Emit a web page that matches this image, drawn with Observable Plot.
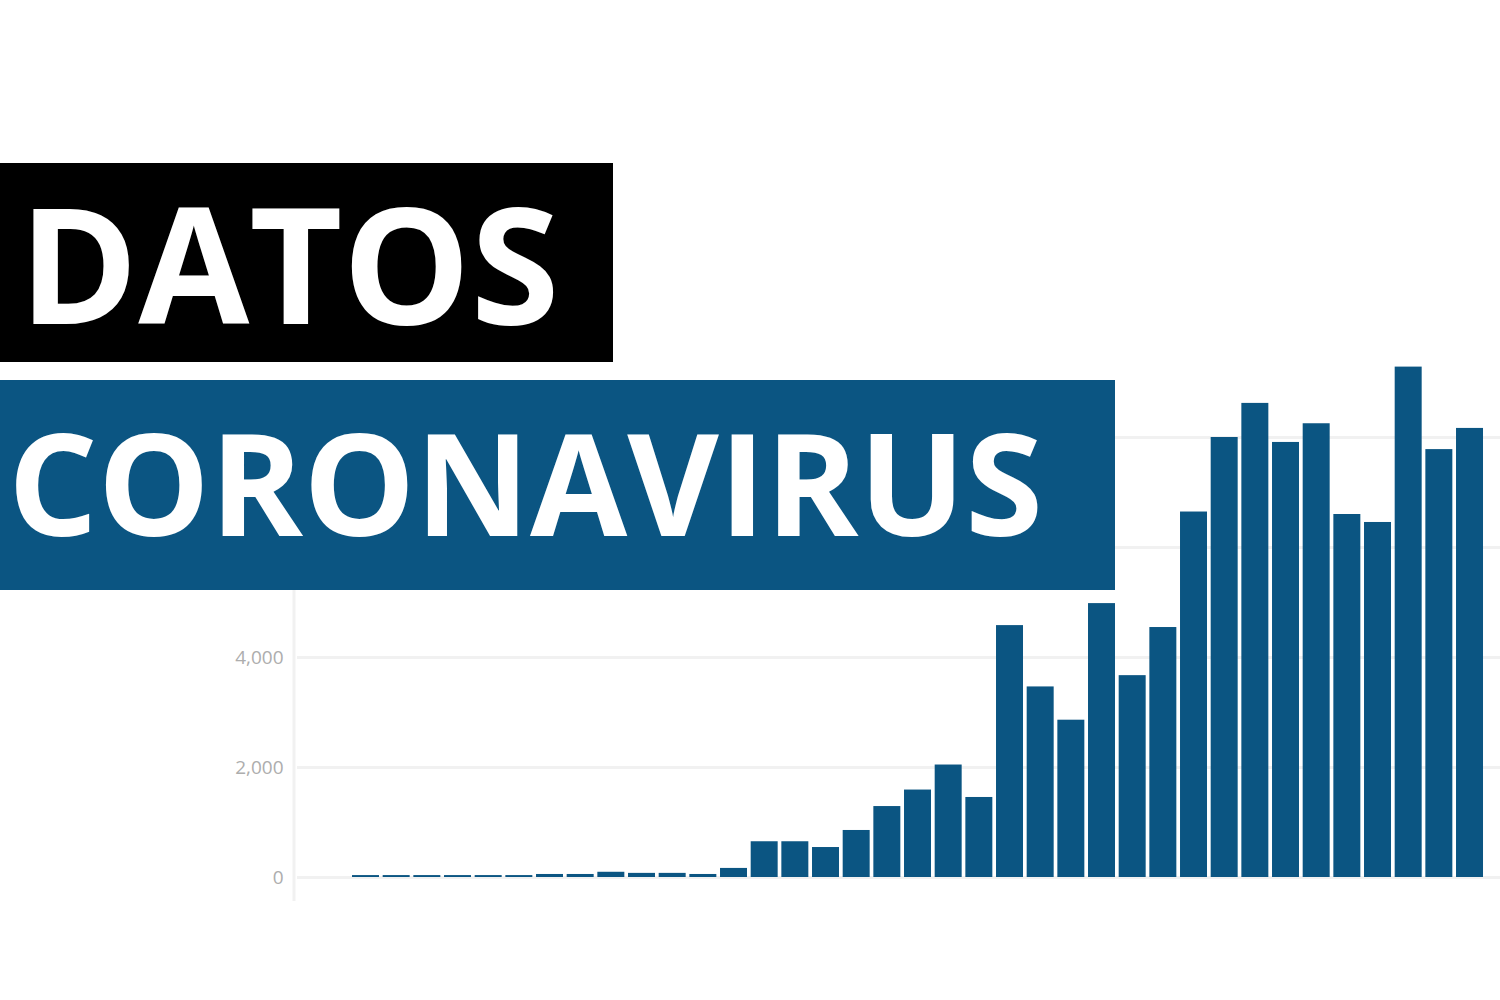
<!DOCTYPE html>
<html>
<head>
<meta charset="utf-8">
<script src="https://cdn.jsdelivr.net/npm/d3@7"></script>
<script src="https://cdn.jsdelivr.net/npm/@observablehq/plot@0.6"></script>
<style>
  html, body { margin: 0; padding: 0; background: #ffffff; }
  #wrap { position: relative; width: 1500px; height: 1000px; overflow: hidden; background: #fff; }
  #wrap > svg.plot { position: absolute; left: 0; top: 0; }
  #header { position: absolute; left: 0; top: 0; width: 1500px; height: 1000px; pointer-events: none; }
</style>
</head>
<body>
<div id="wrap"></div>
<script>
// ---- data ----
const days = d3.range(1, 38).map(String);
const values = [
  35, 35, 35, 35, 35, 35, 55, 55, 95, 75, 75, 55, 165,
  650, 650, 545, 855, 1290, 1590, 2045, 1455,
  4580, 3465, 2860, 4980, 3670, 4545,
  6645, 8000, 8620, 7910, 8250, 6600, 6455, 9280, 7780, 8165
];
const gridTicks = [0, 2000, 4000, 6000, 8000];
const labelTicks = [0, 2000, 4000];
const titleLine1 = "DATOS";
const titleLine2 = "CORONAVIRUS";

const data = days.map((d, i) => ({day: d, value: values[i]}));

const BLUE = "#0b5582";
const GRID = "#f1f1f1";

// faint vertical axis line on the left edge of the frame
function leftLine(index, scales, values, dims) {
  const g = d3.create("svg:g");
  g.append("line")
    .attr("x1", dims.marginLeft - 3).attr("x2", dims.marginLeft - 3)
    .attr("y1", scales.y(6000)).attr("y2", dims.height - dims.marginBottom + 24)
    .attr("stroke", GRID).attr("stroke-width", 3);
  return g.node();
}

const chart = Plot.plot({
  width: 1500,
  height: 1000,
  marginLeft: 297,
  marginRight: 0,
  marginTop: 327,
  marginBottom: 123,
  style: {background: "transparent", fontFamily: "'Open Sans', sans-serif"},
  x: {
    type: "band",
    domain: days,
    paddingInner: 0.12,
    paddingOuter: 1.174,
    align: 0.764,
    round: false,
    axis: null
  },
  y: {domain: [0, 10000], axis: null},
  marks: [
    Plot.ruleY(gridTicks, {stroke: GRID, strokeWidth: 3}),
    leftLine,
    Plot.axisY({
      ticks: labelTicks,
      tickSize: 0,
      tickPadding: 14,
      tickFormat: d3.format(","),
      fontSize: 19,
      color: "#adadad",
      label: null
    }),
    Plot.barY(data, {x: "day", y: "value", fill: BLUE})
  ]
});
chart.classList.add("plot");
document.getElementById("wrap").appendChild(chart);

// ---- header overlay ----
const header = d3.select("#wrap").append("svg")
  .attr("id", "header")
  .attr("width", 1500).attr("height", 1000);

header.append("rect")
  .attr("x", 0).attr("y", 163).attr("width", 613).attr("height", 199)
  .attr("fill", "#000000");
header.append("text")
  .attr("x", 19).attr("y", 324)
  .attr("fill", "#ffffff")
  .attr("font-family", "'Open Sans', sans-serif")
  .attr("font-weight", 700)
  .attr("font-size", 161)
  .text(titleLine1);

header.append("rect")
  .attr("x", 0).attr("y", 380).attr("width", 1115).attr("height", 210)
  .attr("fill", BLUE);
header.append("text")
  .attr("x", 8).attr("y", 536)
  .attr("fill", "#ffffff")
  .attr("font-family", "'Open Sans', sans-serif")
  .attr("font-weight", 700)
  .attr("font-size", 141)
  .text(titleLine2);
</script>
</body>
</html>
